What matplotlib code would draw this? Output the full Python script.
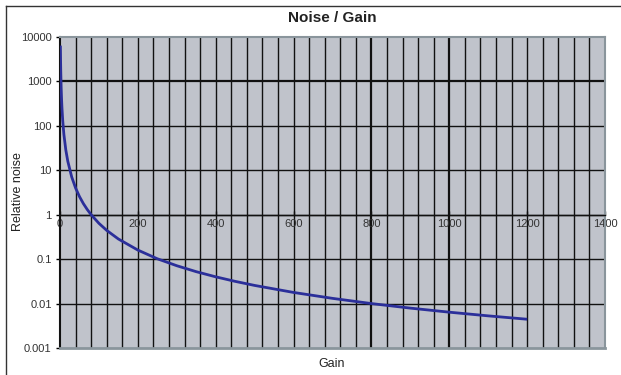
import matplotlib
matplotlib.use("Agg")
import matplotlib.pyplot as plt
from matplotlib.lines import Line2D
from matplotlib.ticker import FixedLocator, NullFormatter

plt.rcParams['font.family'] = ['Liberation Sans', 'DejaVu Sans']

title = "Noise / Gain"
xlabel = "Gain"
ylabel = "Relative noise"

gain = [1, 1.5, 2, 3, 4, 5, 7, 10, 15, 20, 30, 40, 50, 60, 70, 80, 100, 120, 150,
        200, 250, 300, 350, 400, 450, 500, 600, 700, 800, 900, 1000, 1100, 1200]
noise = [6400, 2844, 1600, 711, 400, 256, 130.6, 64, 28.4, 16, 7.11, 4.0, 2.56, 1.78,
         1.31, 1.0, 0.64, 0.444, 0.284, 0.16, 0.102, 0.0711, 0.0522, 0.04, 0.0316,
         0.0256, 0.0178, 0.0131, 0.01, 0.0079, 0.0064, 0.00529, 0.00444]

xticks = [0, 200, 400, 600, 800, 1000, 1200, 1400]
xtick_labels = ["0", "200", "400", "600", "800", "1000", "1200", "1400"]
yticks = [0.001, 0.01, 0.1, 1, 10, 100, 1000, 10000]
ytick_labels = ["0.001", "0.01", "0.1", "1", "10", "100", "1000", "10000"]
minor_x = list(range(40, 1400, 40))

fig = plt.figure(figsize=(6.21, 3.75), dpi=100)
ax = fig.add_axes([60/621, 1-348/375, 545/621, 311/375])
ax.set_facecolor('#c0c3cb')
ax.set_yscale('log')
ax.set_xlim(0, 1400)
ax.set_ylim(0.001, 10000)

# grid
for x in minor_x:
    lw = 1.6 if x in (800, 1000) else 1.0
    ax.axvline(x, color='#111111', lw=lw, zorder=1)
for y in yticks[1:-1]:
    lw = 1.6 if y == 1000 else 1.0
    ax.axhline(y, color='#111111', lw=lw, zorder=1)

ax.plot(gain, noise, color='#2b2f9a', lw=2.0, zorder=3, solid_capstyle='butt')

# spines
for s in ('top', 'right'):
    ax.spines[s].set_color('#8a959c')
    ax.spines[s].set_linewidth(1.5)
ax.spines['left'].set_color('#111111')
ax.spines['left'].set_linewidth(1.5)
ax.spines['bottom'].set_position(('data', 1))
ax.spines['bottom'].set_color('#111111')
ax.spines['bottom'].set_linewidth(1.0)
# lower plot border
ax.plot([0, 1], [0, 0], transform=ax.transAxes, color='#8a959c', lw=2.0,
        clip_on=False, zorder=4)

ax.set_xticks(xticks)
ax.set_xticklabels(xtick_labels)
ax.tick_params(axis='x', direction='in', length=3, width=1, pad=3,
               labelsize=8, colors='#111111', labelcolor='#333333')
ax.yaxis.set_major_locator(FixedLocator(yticks))
ax.set_yticklabels(ytick_labels)
ax.yaxis.set_minor_formatter(NullFormatter())
ax.tick_params(axis='y', which='minor', length=0)
ax.tick_params(axis='y', direction='out', length=3, width=1, pad=3,
               labelsize=8, labelcolor='#333333')

fig.text(332/621, 1-18/375, title, ha='center', va='center', fontsize=11,
         fontweight='bold', color='#222222')
fig.text(332/621, 1-364/375, xlabel, ha='center', va='center', fontsize=9,
         color='#222222')
fig.text(18/621, 1-192/375, ylabel, ha='center', va='center', fontsize=9,
         rotation=90, color='#222222')

# outer frame lines (left and top)
fig.add_artist(Line2D([5.5/621, 5.5/621], [0, 1-5.5/375], transform=fig.transFigure,
                      color='#333333', lw=1.0))
fig.add_artist(Line2D([5.5/621, 1], [1-5.5/375, 1-5.5/375], transform=fig.transFigure,
                      color='#333333', lw=1.0))

fig.savefig('out.png', dpi=100)
